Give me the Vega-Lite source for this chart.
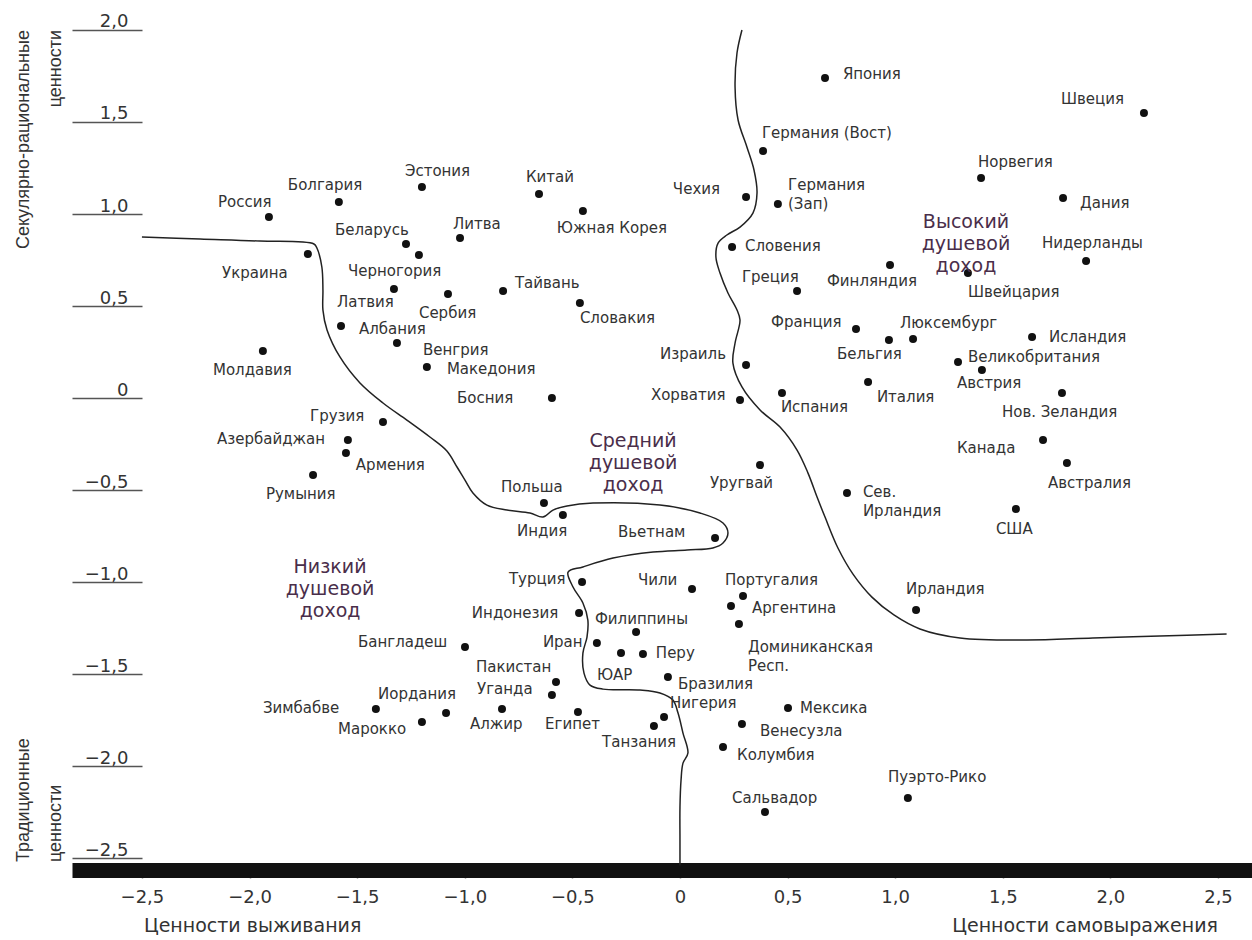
{
  "$schema": "https://vega.github.io/schema/vega-lite/v6.json",
  "width": 1180,
  "height": 870,
  "autosize": {"type": "none"},
  "padding": {"left": 72, "top": 0, "right": 0, "bottom": 70},
  "background": "white",
  "config": {"view": {"stroke": null}},
  "resolve": {"axis": {"x": "independent", "y": "independent"}},
  "datasets": {
    "countries": [
      {"n":"Россия","x":-1.910,"y":0.984,"lx":-2.147,"ly":1.065},
      {"n":"Болгария","x":-1.585,"y":1.065,"lx":-1.822,"ly":1.158},
      {"n":"Эстония","x":-1.199,"y":1.147,"lx":-1.278,"ly":1.234},
      {"n":"Литва","x":-1.022,"y":0.870,"lx":-1.055,"ly":0.946},
      {"n":"Беларусь","x":-1.273,"y":0.837,"lx":-1.603,"ly":0.913},
      {"n":"Черногория","x":-1.213,"y":0.777,"lx":-1.543,"ly":0.690},
      {"n":"Украина","x":-1.729,"y":0.783,"lx":-2.128,"ly":0.679},
      {"n":"Латвия","x":-1.329,"y":0.592,"lx":-1.594,"ly":0.522},
      {"n":"Сербия","x":-1.078,"y":0.565,"lx":-1.213,"ly":0.462},
      {"n":"Тайвань","x":-0.822,"y":0.582,"lx":-0.767,"ly":0.625},
      {"n":"Албания","x":-1.575,"y":0.391,"lx":-1.492,"ly":0.375},
      {"n":"Венгрия","x":-1.315,"y":0.299,"lx":-1.194,"ly":0.261},
      {"n":"Молдавия","x":-1.938,"y":0.255,"lx":-2.170,"ly":0.152},
      {"n":"Македония","x":-1.176,"y":0.168,"lx":-1.083,"ly":0.158},
      {"n":"Босния","x":-0.595,"y":0.0,"lx":-1.036,"ly":0.0},
      {"n":"Грузия","x":-1.380,"y":-0.130,"lx":-1.719,"ly":-0.098},
      {"n":"Азербайджан","x":-1.543,"y":-0.228,"lx":-2.151,"ly":-0.223},
      {"n":"Армения","x":-1.552,"y":-0.299,"lx":-1.506,"ly":-0.364},
      {"n":"Румыния","x":-1.705,"y":-0.418,"lx":-1.924,"ly":-0.522},
      {"n":"Польша","x":-0.632,"y":-0.571,"lx":-0.832,"ly":-0.484},
      {"n":"Индия","x":-0.544,"y":-0.636,"lx":-0.757,"ly":-0.723},
      {"n":"Турция","x":-0.455,"y":-1.0,"lx":-0.795,"ly":-0.984},
      {"n":"Индонезия","x":-0.469,"y":-1.168,"lx":-0.967,"ly":-1.168},
      {"n":"Бангладеш","x":-0.999,"y":-1.353,"lx":-1.496,"ly":-1.326},
      {"n":"Иран","x":-0.386,"y":-1.332,"lx":-0.637,"ly":-1.326},
      {"n":"Филиппины","x":-0.204,"y":-1.272,"lx":-0.395,"ly":-1.201},
      {"n":"ЮАР","x":-0.274,"y":-1.386,"lx":-0.386,"ly":-1.505},
      {"n":"Перу","x":-0.172,"y":-1.391,"lx":-0.112,"ly":-1.386},
      {"n":"Пакистан","x":-0.576,"y":-1.543,"lx":-0.948,"ly":-1.462},
      {"n":"Уганда","x":-0.595,"y":-1.614,"lx":-0.943,"ly":-1.582},
      {"n":"Зимбабве","x":-1.413,"y":-1.690,"lx":-1.938,"ly":-1.685},
      {"n":"Иордания","x":-1.087,"y":-1.712,"lx":-1.403,"ly":-1.609},
      {"n":"Марокко","x":-1.199,"y":-1.761,"lx":-1.589,"ly":-1.799},
      {"n":"Алжир","x":-0.827,"y":-1.690,"lx":-0.976,"ly":-1.772},
      {"n":"Египет","x":-0.474,"y":-1.707,"lx":-0.627,"ly":-1.772},
      {"n":"Танзания","x":-0.121,"y":-1.783,"lx":-0.362,"ly":-1.870},
      {"n":"Нигерия","x":-0.074,"y":-1.734,"lx":-0.046,"ly":-1.658},
      {"n":"Бразилия","x":-0.056,"y":-1.516,"lx":-0.009,"ly":-1.554},
      {"n":"Чили","x":0.056,"y":-1.038,"lx":-0.195,"ly":-0.989},
      {"n":"Португалия","x":0.293,"y":-1.076,"lx":0.209,"ly":-0.989},
      {"n":"Аргентина","x":0.237,"y":-1.130,"lx":0.335,"ly":-1.141},
      {"n":"Доминиканская\nРесп.","x":0.274,"y":-1.228,"lx":0.316,"ly":-1.353},
      {"n":"Колумбия","x":0.200,"y":-1.897,"lx":0.265,"ly":-1.940},
      {"n":"Венесузла","x":0.288,"y":-1.772,"lx":0.372,"ly":-1.810},
      {"n":"Мексика","x":0.502,"y":-1.685,"lx":0.558,"ly":-1.685},
      {"n":"Сальвадор","x":0.395,"y":-2.250,"lx":0.242,"ly":-2.174},
      {"n":"Пуэрто-Рико","x":1.059,"y":-2.174,"lx":0.967,"ly":-2.060},
      {"n":"Ирландия","x":1.097,"y":-1.152,"lx":1.050,"ly":-1.038},
      {"n":"США","x":1.561,"y":-0.603,"lx":1.468,"ly":-0.712},
      {"n":"Австралия","x":1.798,"y":-0.353,"lx":1.710,"ly":-0.462},
      {"n":"Канада","x":1.687,"y":-0.228,"lx":1.287,"ly":-0.272},
      {"n":"Нов. Зеландия","x":1.775,"y":0.027,"lx":1.496,"ly":-0.076},
      {"n":"Австрия","x":1.403,"y":0.152,"lx":1.287,"ly":0.082},
      {"n":"Великобритания","x":1.292,"y":0.196,"lx":1.338,"ly":0.223},
      {"n":"Исландия","x":1.636,"y":0.332,"lx":1.715,"ly":0.332},
      {"n":"Люксембург","x":1.083,"y":0.321,"lx":1.022,"ly":0.408},
      {"n":"Бельгия","x":0.971,"y":0.315,"lx":0.730,"ly":0.239},
      {"n":"Франция","x":0.818,"y":0.375,"lx":0.423,"ly":0.413},
      {"n":"Италия","x":0.874,"y":0.087,"lx":0.915,"ly":0.005},
      {"n":"Испания","x":0.474,"y":0.027,"lx":0.469,"ly":-0.049},
      {"n":"Хорватия","x":0.279,"y":-0.011,"lx":-0.135,"ly":0.016},
      {"n":"Израиль","x":0.307,"y":0.179,"lx":-0.093,"ly":0.239},
      {"n":"Уругвай","x":0.372,"y":-0.364,"lx":0.139,"ly":-0.462},
      {"n":"Сев.\nИрландия","x":0.776,"y":-0.516,"lx":0.850,"ly":-0.511},
      {"n":"Вьетнам","x":0.163,"y":-0.761,"lx":-0.288,"ly":-0.728},
      {"n":"Словакия","x":-0.465,"y":0.516,"lx":-0.465,"ly":0.435},
      {"n":"Швейцария","x":1.338,"y":0.679,"lx":1.338,"ly":0.576},
      {"n":"Финляндия","x":0.976,"y":0.723,"lx":0.683,"ly":0.636},
      {"n":"Греция","x":0.544,"y":0.582,"lx":0.288,"ly":0.658},
      {"n":"Словения","x":0.242,"y":0.821,"lx":0.302,"ly":0.826},
      {"n":"Чехия","x":0.307,"y":1.092,"lx":-0.033,"ly":1.136},
      {"n":"Германия\n(Зап)","x":0.455,"y":1.054,"lx":0.502,"ly":1.158},
      {"n":"Германия (Вост)","x":0.386,"y":1.342,"lx":0.381,"ly":1.440},
      {"n":"Япония","x":0.674,"y":1.739,"lx":0.757,"ly":1.761},
      {"n":"Китай","x":-0.655,"y":1.109,"lx":-0.716,"ly":1.201},
      {"n":"Южная Корея","x":-0.451,"y":1.016,"lx":-0.572,"ly":0.924},
      {"n":"Швеция","x":2.156,"y":1.549,"lx":1.770,"ly":1.625},
      {"n":"Норвегия","x":1.399,"y":1.196,"lx":1.385,"ly":1.283},
      {"n":"Дания","x":1.780,"y":1.087,"lx":1.859,"ly":1.060},
      {"n":"Нидерланды","x":1.887,"y":0.745,"lx":1.682,"ly":0.842}
    ],
    "curves": [
      {"c":"A","i":0,"x":-2.500,"y":0.875},
      {"c":"A","i":1,"x":-2.230,"y":0.864},
      {"c":"A","i":2,"x":-1.952,"y":0.853},
      {"c":"A","i":3,"x":-1.701,"y":0.837},
      {"c":"A","i":4,"x":-1.687,"y":0.815},
      {"c":"A","i":5,"x":-1.664,"y":0.712},
      {"c":"A","i":6,"x":-1.659,"y":0.587},
      {"c":"A","i":7,"x":-1.659,"y":0.478},
      {"c":"A","i":8,"x":-1.640,"y":0.370},
      {"c":"A","i":9,"x":-1.580,"y":0.223},
      {"c":"A","i":10,"x":-1.487,"y":0.082},
      {"c":"A","i":11,"x":-1.380,"y":-0.027},
      {"c":"A","i":12,"x":-1.269,"y":-0.120},
      {"c":"A","i":13,"x":-1.162,"y":-0.212},
      {"c":"A","i":14,"x":-1.083,"y":-0.288},
      {"c":"A","i":15,"x":-1.036,"y":-0.375},
      {"c":"A","i":16,"x":-0.999,"y":-0.446},
      {"c":"A","i":17,"x":-0.962,"y":-0.516},
      {"c":"A","i":18,"x":-0.897,"y":-0.582},
      {"c":"A","i":19,"x":-0.804,"y":-0.609},
      {"c":"A","i":20,"x":-0.697,"y":-0.625},
      {"c":"A","i":21,"x":-0.637,"y":-0.647},
      {"c":"A","i":22,"x":-0.590,"y":-0.609},
      {"c":"A","i":23,"x":-0.525,"y":-0.587},
      {"c":"A","i":24,"x":-0.404,"y":-0.571},
      {"c":"A","i":25,"x":-0.093,"y":-0.582},
      {"c":"A","i":26,"x":0.093,"y":-0.625},
      {"c":"A","i":27,"x":0.200,"y":-0.679},
      {"c":"A","i":28,"x":0.223,"y":-0.734},
      {"c":"A","i":29,"x":0.200,"y":-0.788},
      {"c":"A","i":30,"x":0.153,"y":-0.815},
      {"c":"A","i":31,"x":0.033,"y":-0.826},
      {"c":"A","i":32,"x":-0.125,"y":-0.837},
      {"c":"A","i":33,"x":-0.311,"y":-0.870},
      {"c":"A","i":34,"x":-0.451,"y":-0.918},
      {"c":"A","i":35,"x":-0.520,"y":-0.946},
      {"c":"A","i":36,"x":-0.497,"y":-1.027},
      {"c":"A","i":37,"x":-0.451,"y":-1.114},
      {"c":"A","i":38,"x":-0.428,"y":-1.207},
      {"c":"A","i":39,"x":-0.432,"y":-1.299},
      {"c":"A","i":40,"x":-0.451,"y":-1.386},
      {"c":"A","i":41,"x":-0.446,"y":-1.495},
      {"c":"A","i":42,"x":-0.418,"y":-1.560},
      {"c":"A","i":43,"x":-0.358,"y":-1.582},
      {"c":"A","i":44,"x":-0.186,"y":-1.587},
      {"c":"A","i":45,"x":-0.093,"y":-1.603},
      {"c":"A","i":46,"x":-0.033,"y":-1.641},
      {"c":"A","i":47,"x":-0.009,"y":-1.712},
      {"c":"A","i":48,"x":0.014,"y":-1.821},
      {"c":"A","i":49,"x":0.037,"y":-1.929},
      {"c":"A","i":50,"x":0.014,"y":-1.984},
      {"c":"A","i":51,"x":0.005,"y":-2.076},
      {"c":"A","i":52,"x":0.0,"y":-2.223},
      {"c":"A","i":53,"x":0.0,"y":-2.402},
      {"c":"A","i":54,"x":0.0,"y":-2.540},
      {"c":"B","i":0,"x":0.288,"y":2.0},
      {"c":"B","i":1,"x":0.265,"y":1.875},
      {"c":"B","i":2,"x":0.256,"y":1.690},
      {"c":"B","i":3,"x":0.270,"y":1.511},
      {"c":"B","i":4,"x":0.311,"y":1.364},
      {"c":"B","i":5,"x":0.344,"y":1.239},
      {"c":"B","i":6,"x":0.358,"y":1.114},
      {"c":"B","i":7,"x":0.339,"y":1.005},
      {"c":"B","i":8,"x":0.279,"y":0.929},
      {"c":"B","i":9,"x":0.218,"y":0.886},
      {"c":"B","i":10,"x":0.177,"y":0.842},
      {"c":"B","i":11,"x":0.167,"y":0.766},
      {"c":"B","i":12,"x":0.186,"y":0.679},
      {"c":"B","i":13,"x":0.223,"y":0.571},
      {"c":"B","i":14,"x":0.265,"y":0.478},
      {"c":"B","i":15,"x":0.279,"y":0.424},
      {"c":"B","i":16,"x":0.256,"y":0.299},
      {"c":"B","i":17,"x":0.246,"y":0.190},
      {"c":"B","i":18,"x":0.288,"y":0.060},
      {"c":"B","i":19,"x":0.372,"y":-0.065},
      {"c":"B","i":20,"x":0.465,"y":-0.158},
      {"c":"B","i":21,"x":0.544,"y":-0.283},
      {"c":"B","i":22,"x":0.595,"y":-0.408},
      {"c":"B","i":23,"x":0.637,"y":-0.538},
      {"c":"B","i":24,"x":0.674,"y":-0.647},
      {"c":"B","i":25,"x":0.734,"y":-0.815},
      {"c":"B","i":26,"x":0.804,"y":-0.957},
      {"c":"B","i":27,"x":0.892,"y":-1.082},
      {"c":"B","i":28,"x":0.994,"y":-1.179},
      {"c":"B","i":29,"x":1.115,"y":-1.255},
      {"c":"B","i":30,"x":1.301,"y":-1.304},
      {"c":"B","i":31,"x":1.612,"y":-1.315},
      {"c":"B","i":32,"x":1.919,"y":-1.304},
      {"c":"B","i":33,"x":2.230,"y":-1.293},
      {"c":"B","i":34,"x":2.540,"y":-1.283}
    ],
    "regions": [
      {"t":"Высокий\nдушевой\nдоход","x":1.329,"y":0.957},
      {"t":"Средний\nдушевой\nдоход","x":-0.218,"y":-0.234},
      {"t":"Низкий\nдушевой\nдоход","x":-1.626,"y":-0.918}
    ],
    "one": [{"k": 1}]
  },
  "layer": [
    {
      "data": {"name": "curves"},
      "mark": {"type": "line", "interpolate": "catmull-rom", "color": "#222", "strokeWidth": 1.5},
      "encoding": {
        "x": {"field": "x", "type": "quantitative", "scale": {"domain": [-2.825, 2.658], "nice": false, "zero": false},
          "axis": {"values": [-2.5,-2,-1.5,-1,-0.5,0,0.5,1,1.5,2,2.5], "title": null, "grid": false, "domain": true, "domainColor": "#111", "domainWidth": 15, "ticks": true, "tickColor": "#777", "tickWidth": 1.5, "tickSize": 8, "labelPadding": 10, "labelFont": "DejaVu Sans", "labelFontSize": 18, "labelColor": "#333", "labelFlush": false, "labelOverlap": false, "labelExpr": "datum.value == 0 ? '0' : replace(format(datum.value, '.1f'), '.', ',')"}},
        "y": {"field": "y", "type": "quantitative", "scale": {"domain": [-2.565, 2.163], "nice": false, "zero": false},
          "axis": {"values": [-2.5,-2,-1.5,-1,-0.5,0,0.5,1,1.5,2], "title": null, "grid": false, "domain": false, "offset": -70, "ticks": true, "tickSize": 70, "tickColor": "#555", "tickWidth": 1.3, "labelPadding": -56, "labelAlign": "right", "labelBaseline": "alphabetic", "labelOffset": -3, "labelFont": "DejaVu Sans", "labelFontSize": 18, "labelColor": "#333", "labelFlush": false, "labelOverlap": false, "labelExpr": "datum.value == 0 ? '0' : replace(format(datum.value, '.1f'), '.', ',')"}},
        "detail": {"field": "c"},
        "order": {"field": "i", "type": "quantitative"}
      }
    },
    {
      "data": {"name": "countries"},
      "mark": {"type": "circle", "size": 64, "color": "#111", "opacity": 1},
      "encoding": {
        "x": {"field": "x", "type": "quantitative", "scale": {"domain": [-2.825, 2.658], "nice": false, "zero": false}, "axis": null},
        "y": {"field": "y", "type": "quantitative", "scale": {"domain": [-2.565, 2.163], "nice": false, "zero": false}, "axis": null}
      }
    },
    {
      "data": {"name": "countries"},
      "mark": {"type": "text", "align": "left", "baseline": "middle", "font": "DejaVu Sans", "fontSize": 15, "lineHeight": 19, "color": "#333", "lineBreak": "\n"},
      "encoding": {
        "x": {"field": "lx", "type": "quantitative", "scale": {"domain": [-2.825, 2.658], "nice": false, "zero": false}, "axis": null},
        "y": {"field": "ly", "type": "quantitative", "scale": {"domain": [-2.565, 2.163], "nice": false, "zero": false}, "axis": null},
        "text": {"field": "n"}
      }
    },
    {
      "data": {"name": "regions"},
      "mark": {"type": "text", "align": "center", "baseline": "middle", "font": "DejaVu Sans", "fontSize": 19, "lineHeight": 22, "color": "#4a2e4a", "lineBreak": "\n"},
      "encoding": {
        "x": {"field": "x", "type": "quantitative", "scale": {"domain": [-2.825, 2.658], "nice": false, "zero": false}, "axis": null},
        "y": {"field": "y", "type": "quantitative", "scale": {"domain": [-2.565, 2.163], "nice": false, "zero": false}, "axis": null},
        "text": {"field": "t"}
      }
    },
    {
      "data": {"name": "one"},
      "mark": {"type": "text", "text": "Секулярно-рациональные\nценности", "lineBreak": "\n", "angle": 270, "align": "right", "baseline": "top", "font": "Liberation Sans Narrow, Arial Narrow, Liberation Sans", "fontSize": 18, "lineHeight": 32, "color": "#333"},
      "encoding": {
        "x": {"datum": -3.09, "type": "quantitative", "scale": {"domain": [-2.825, 2.658], "nice": false, "zero": false}, "axis": null},
        "y": {"datum": 2.0, "type": "quantitative", "scale": {"domain": [-2.565, 2.163], "nice": false, "zero": false}, "axis": null}
      }
    },
    {
      "data": {"name": "one"},
      "mark": {"type": "text", "text": "Традиционные\nценности", "lineBreak": "\n", "angle": 270, "align": "left", "baseline": "top", "font": "Liberation Sans Narrow, Arial Narrow, Liberation Sans", "fontSize": 18, "lineHeight": 32, "color": "#333"},
      "encoding": {
        "x": {"datum": -3.09, "type": "quantitative", "scale": {"domain": [-2.825, 2.658], "nice": false, "zero": false}, "axis": null},
        "y": {"datum": -2.522, "type": "quantitative", "scale": {"domain": [-2.565, 2.163], "nice": false, "zero": false}, "axis": null}
      }
    },
    {
      "data": {"name": "one"},
      "mark": {"type": "text", "text": "Ценности выживания", "align": "left", "baseline": "middle", "font": "DejaVu Sans", "fontSize": 19, "color": "#333"},
      "encoding": {
        "x": {"datum": -2.491, "type": "quantitative", "scale": {"domain": [-2.825, 2.658], "nice": false, "zero": false}, "axis": null},
        "y": {"datum": -2.87, "type": "quantitative", "scale": {"domain": [-2.565, 2.163], "nice": false, "zero": false}, "axis": null}
      }
    },
    {
      "data": {"name": "one"},
      "mark": {"type": "text", "text": "Ценности самовыражения", "align": "right", "baseline": "middle", "font": "DejaVu Sans", "fontSize": 19, "color": "#333"},
      "encoding": {
        "x": {"datum": 2.5, "type": "quantitative", "scale": {"domain": [-2.825, 2.658], "nice": false, "zero": false}, "axis": null},
        "y": {"datum": -2.87, "type": "quantitative", "scale": {"domain": [-2.565, 2.163], "nice": false, "zero": false}, "axis": null}
      }
    }
  ]
}
